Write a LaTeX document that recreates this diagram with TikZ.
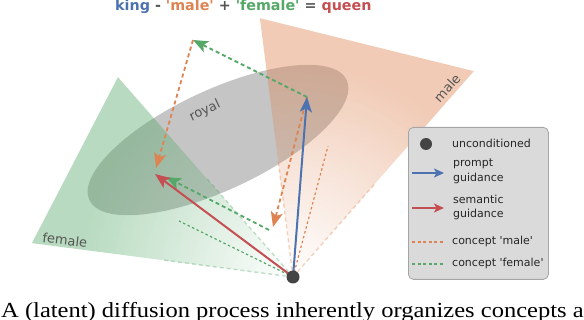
\documentclass[tikz,border=0pt]{standalone}
\usepackage{fontspec}
\setmainfont{Liberation Serif}
\newfontfamily\djv[Ligatures=TeXOff]{DejaVu Sans}
\usetikzlibrary{arrows.meta,calc,fadings}
\definecolor{sblue}{HTML}{4C72B0}
\definecolor{sorange}{HTML}{DD8452}
\definecolor{sgreen}{HTML}{55A868}
\definecolor{sred}{HTML}{C44E52}
\definecolor{royalc}{RGB}{197,197,197}
\definecolor{labc}{RGB}{85,85,85}
\definecolor{dotc}{RGB}{68,68,68}
\definecolor{legfill}{RGB}{218,218,218}
\definecolor{legdraw}{RGB}{165,165,165}
\definecolor{titgray}{RGB}{85,85,85}
\tikzfading[name=conefade, inner color=transparent!100, outer color=transparent!0]
\begin{document}
\begin{tikzpicture}[x=1pt,y=-1pt,
  arr/.style={-{Stealth[length=15pt,width=12pt,inset=3.5pt]}},
  solidarr/.style={arr, line width=2pt},
  dasharr/.style={arr, line width=1.8pt, dash pattern=on 4pt off 3pt},
  conceptline/.style={line width=1.2pt, dash pattern=on 2.5pt off 2.5pt},
  coneedge/.style={line width=1.4pt, dash pattern=on 4pt off 3pt, opacity=0.35},
  conefill/.style={fill opacity=0.42, path fading=conefade, fit fading=false,
      fading transform={shift={(O)}, scale=8.5}},
  lab/.style={font=\djv\fontsize{13}{15}\selectfont, text=labc, inner sep=0pt},
  legtext/.style={font=\djv\fontsize{11}{14}\selectfont, text=black!85, inner sep=0pt, anchor=base west},
  legarr/.style={line width=1.8pt, -{Stealth[length=10pt,width=9pt,inset=2.5pt]}},
  legline/.style={line width=1.3pt, dash pattern=on 3pt off 2.5pt},
]
\useasboundingbox (0,0) rectangle (584,320);
\clip (0,0) rectangle (584,320);
% key points
\coordinate (O) at (293,277);
\coordinate (K) at (307,97);
\coordinate (KF) at (193,40);
\coordinate (KM) at (273,227);
\coordinate (KMs) at (269,230);
\coordinate (Q) at (155,174);
\coordinate (QO) at (156,168);
\coordinate (QG) at (166,177);
\coordinate (Mc) at (328,146);
\coordinate (Fc) at (179,221);
\coordinate (G1) at (118,77);
\coordinate (G2) at (32,243);
\coordinate (R1) at (260,18);
\coordinate (R2) at (474,71);
% royal ellipse
\fill[royalc, rotate around={25:(218,140)}] (218,140) ellipse [x radius=142pt, y radius=50pt];
% cones
\fill[sgreen, conefill] (O) -- (G1) -- (G2) -- cycle;
\fill[sorange, conefill] (O) -- (R1) -- (R2) -- cycle;
\draw[coneedge, sgreen] (O) -- ($(O)!0.5!(G1)$);
\draw[coneedge, sgreen] (O) -- ($(O)!0.5!(G2)$);
\draw[coneedge, sorange] (O) -- ($(O)!0.45!(R1)$);
\draw[coneedge, sorange] (O) -- ($(O)!0.45!(R2)$);
% labels
\node[lab, rotate=25] (royal) at (205,111) {royal};
\node[lab, rotate=48] (malel) at (447,88) {male};
\node[lab, rotate=-7] (femalel) at (65,240) {female};
% concept directions
\draw[conceptline, sorange] (O) -- (Mc);
\draw[conceptline, sgreen] (O) -- (Fc);
% vector arithmetic
\draw[dasharr, sorange] (K) -- (KM);
\draw[dasharr, sgreen] (K) -- (KF);
\draw[dasharr, sorange] (KF) -- (QO);
\draw[dasharr, sgreen] (KMs) -- (QG);
% guidance
\draw[solidarr, sred] (O) -- (Q);
\draw[solidarr, sblue] (O) -- (K);
\node[circle, fill=dotc, minimum size=13pt, inner sep=0pt] (dot) at (O) {};
% title
\node[anchor=base west, inner sep=0pt, font=\djv\bfseries\fontsize{14.3}{16}\selectfont] (title) at (115,11)
  {\textcolor{sblue}{king} \textcolor{titgray}{-} \textcolor{sorange}{'male'} \textcolor{titgray}{+} \textcolor{sgreen}{'female'} \textcolor{titgray}{=} \textcolor{sred}{queen}};
% legend
\node[draw=legdraw, fill=legfill, rounded corners=5pt, line width=0.8pt, minimum width=140pt,
      minimum height=152pt, anchor=north west, inner sep=0pt] (legend) at (408,127) {};
\node[circle, fill=dotc, minimum size=12pt, inner sep=0pt] (ldot) at (426,144) {};
\node[legtext] (lt1) at (452,148) {unconditioned};
\coordinate (lb1) at (412,173); \coordinate (lb2) at (444,173);
\draw[legarr, sblue] (lb1) -- (lb2);
\node[legtext] (lt2a) at (453,167) {prompt};
\node[legtext] (lt2b) at (453,182) {guidance};
\coordinate (lr1) at (412,208); \coordinate (lr2) at (444,208);
\draw[legarr, sred] (lr1) -- (lr2);
\node[legtext] (lt3a) at (453,203.5) {semantic};
\node[legtext] (lt3b) at (453,218) {guidance};
\coordinate (lo1) at (412,242); \coordinate (lo2) at (444,242);
\draw[legline, sorange] (lo1) -- (lo2);
\node[legtext] (lt4) at (452,245) {concept 'male'};
\coordinate (lg1) at (412,264); \coordinate (lg2) at (444,264);
\draw[legline, sgreen] (lg1) -- (lg2);
\node[legtext] (lt5) at (452,267) {concept 'female'};
% caption
\node[anchor=base west, inner sep=0pt, xscale=1.14, font=\fontsize{21.5}{26}\selectfont] (caption) at (1,318)
  {A (latent) diffusion process inherently organizes concepts a};
\end{tikzpicture}
\end{document}
